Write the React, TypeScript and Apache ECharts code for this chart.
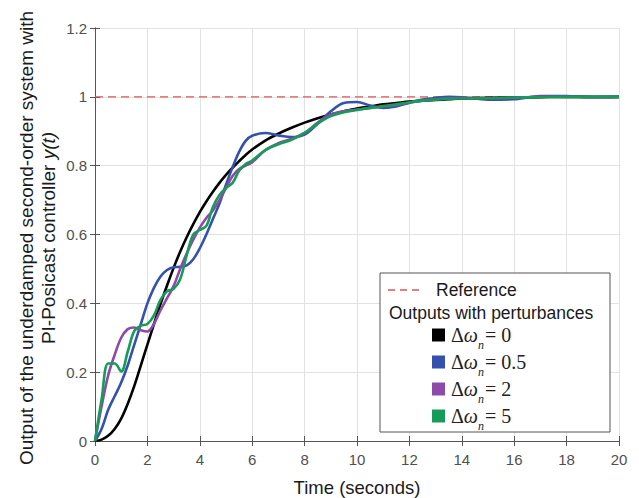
import React, { useEffect, useRef } from "react";
import * as echarts from "echarts";

const times = [0, 0.25, 0.5, 0.75, 1, 1.25, 1.5, 1.75, 2, 2.25, 2.5, 2.75, 3, 3.25, 3.5, 3.75, 4, 4.25, 4.5, 4.75, 5, 5.25, 5.5, 5.75, 6,
  6.5, 7, 7.5, 8, 8.5, 9, 9.5, 10, 10.5, 11, 11.5, 12, 12.5, 13, 13.5, 14, 15, 16, 17, 18, 19, 20];

const outDw0 = [0, 0.004, 0.015, 0.035, 0.065, 0.108, 0.16, 0.22, 0.28, 0.34, 0.398, 0.452, 0.503, 0.55, 0.592, 0.63, 0.665, 0.696, 0.724, 0.75, 0.773, 0.794, 0.813, 0.831, 0.847,
  0.873, 0.893, 0.91, 0.925, 0.938, 0.949, 0.958, 0.966, 0.972, 0.978, 0.982, 0.986, 0.989, 0.991, 0.993, 0.995, 0.997, 0.998, 0.999, 1.0, 1.0, 1.0];

const outDw05 = [0, 0.035, 0.09, 0.13, 0.17, 0.22, 0.28, 0.34, 0.4, 0.445, 0.478, 0.497, 0.505, 0.506, 0.51, 0.528, 0.56, 0.6, 0.645, 0.69, 0.745, 0.795, 0.84, 0.872, 0.887,
  0.895, 0.888, 0.883, 0.89, 0.922, 0.958, 0.982, 0.985, 0.975, 0.968, 0.972, 0.983, 0.992, 0.997, 1.0, 0.999, 0.992, 0.993, 1.002, 1.002, 0.999, 1.0];

const outDw2 = [0, 0.1, 0.19, 0.25, 0.3, 0.325, 0.33, 0.322, 0.318, 0.34, 0.38, 0.415, 0.45, 0.5, 0.545, 0.585, 0.62, 0.648, 0.67, 0.7, 0.735, 0.77, 0.79, 0.8, 0.81,
  0.845, 0.865, 0.878, 0.895, 0.925, 0.948, 0.958, 0.963, 0.968, 0.972, 0.976, 0.983, 0.989, 0.993, 0.996, 0.997, 0.996, 0.997, 1.001, 1.0, 0.999, 1.0];

const outDw5 = [0, 0.12, 0.225, 0.225, 0.202, 0.26, 0.32, 0.335, 0.34, 0.365, 0.41, 0.435, 0.442, 0.47, 0.54, 0.6, 0.613, 0.625, 0.68, 0.715, 0.735, 0.75, 0.785, 0.805, 0.815,
  0.845, 0.862, 0.875, 0.895, 0.922, 0.944, 0.955, 0.962, 0.968, 0.973, 0.978, 0.984, 0.989, 0.992, 0.994, 0.995, 0.996, 0.998, 0.999, 1.0, 1.0, 1.0];

const referenceValue = 1;
const xMin = 0, xMax = 20, xStep = 2;
const yMin = 0, yMax = 1.2, yStep = 0.2;

const seriesNames = ["Δω_n = 0", "Δω_n = 0.5", "Δω_n = 2", "Δω_n = 5"];
const seriesLabels = ["0", "0.5", "2", "5"];
const seriesColors = ["#000000", "#3451ad", "#8e4aa8", "#169c58"];
const seriesData = [outDw0, outDw05, outDw2, outDw5];

const SANS = '"Liberation Sans", Arial, sans-serif';
const SERIF = '"Liberation Serif", "DejaVu Serif", serif';

export default function App() {
  const ref = useRef<HTMLDivElement>(null);
  useEffect(() => {
    if (!ref.current) return;
    const chart = echarts.init(ref.current, null, { renderer: "svg" });
    const axisColor = "#555555";
    const lines = seriesData.map((arr, i) => ({
      name: seriesNames[i],
      type: "line",
      data: times.map((t, k) => [t, arr[k]]),
      showSymbol: false,
      smooth: 0.35,
      lineStyle: { color: seriesColors[i], width: 2.6 },
      itemStyle: { color: seriesColors[i] },
      z: 3 + i,
    }));
    const legendItems: any[] = [];
    const rowY = [335, 362, 389, 416];
    seriesLabels.forEach((lab, i) => {
      legendItems.push({
        type: "rect",
        shape: { x: 432, y: rowY[i] - 6.5, width: 13, height: 13 },
        style: { fill: seriesColors[i] },
        z: 101,
      });
      legendItems.push({
        type: "text",
        x: 451,
        y: rowY[i],
        style: {
          text: `{a|Δ}{b|ω}{s|n}{c|= ${lab}}`,
          textVerticalAlign: "middle",
          textAlign: "left",
          fill: "#222",
          rich: {
            a: { fontFamily: SERIF, fontSize: 20, lineHeight: 24, fill: "#222" },
            b: { fontFamily: SERIF, fontSize: 20, fontStyle: "italic", lineHeight: 24, fill: "#222" },
            s: { fontFamily: SERIF, fontSize: 12, fontStyle: "italic", lineHeight: 12, verticalAlign: "bottom", fill: "#222", padding: [0, 1, -4, 0] },
            c: { fontFamily: SERIF, fontSize: 20, lineHeight: 24, fill: "#222" },
          },
        },
        z: 101,
      });
    });

    chart.setOption({
      animation: false,
      grid: { left: 95, top: 28, width: 524, height: 413, containLabel: false },
      xAxis: [
        {
          type: "value", min: xMin, max: xMax, interval: xStep,
          axisLine: { show: true, lineStyle: { color: axisColor, width: 1 } },
          axisTick: { show: true, inside: true, length: 5, lineStyle: { color: axisColor } },
          axisLabel: { color: "#505050", fontSize: 15, fontFamily: SANS, margin: 11 },
          splitLine: { show: true, lineStyle: { color: "#e2e2e2", width: 1 } },
        },
        {
          type: "value", min: xMin, max: xMax, interval: xStep, position: "top",
          axisLine: { show: true, lineStyle: { color: axisColor, width: 1 } },
          axisTick: { show: true, inside: true, length: 5, lineStyle: { color: axisColor } },
          axisLabel: { show: false },
          splitLine: { show: false },
        },
      ],
      yAxis: [
        {
          type: "value", min: yMin, max: yMax, interval: yStep,
          axisLine: { show: true, lineStyle: { color: axisColor, width: 1 } },
          axisTick: { show: true, inside: true, length: 5, lineStyle: { color: axisColor } },
          axisLabel: { color: "#505050", fontSize: 15, fontFamily: SANS, margin: 8 },
          splitLine: { show: true, lineStyle: { color: "#e2e2e2", width: 1 } },
        },
        {
          type: "value", min: yMin, max: yMax, interval: yStep, position: "right",
          axisLine: { show: true, lineStyle: { color: axisColor, width: 1 } },
          axisTick: { show: true, inside: true, length: 5, lineStyle: { color: axisColor } },
          axisLabel: { show: false },
          splitLine: { show: false },
        },
      ],
      series: [
        {
          name: "Reference",
          type: "line",
          data: [[xMin, referenceValue], [xMax, referenceValue]],
          showSymbol: false,
          lineStyle: { color: "#e05555", width: 1.3, type: [8, 5] },
          z: 2,
        },
        ...lines,
      ],
      graphic: [
        {
          type: "text",
          x: 26, y: 238, rotation: Math.PI / 2,
          style: {
            text: "Output of the underdamped second-order system with",
            font: `19px ${SANS}`, fill: "#1a1a1a",
            textAlign: "center", textVerticalAlign: "middle",
          },
        },
        {
          type: "text",
          x: 48, y: 238, rotation: Math.PI / 2,
          style: {
            text: "{n|PI-Posicast controller }{i|y(t)}",
            textAlign: "center", textVerticalAlign: "middle",
            rich: {
              n: { fontFamily: SANS, fontSize: 19, fill: "#1a1a1a" },
              i: { fontFamily: SANS, fontSize: 19, fontStyle: "italic", fill: "#1a1a1a" },
            },
          },
        },
        {
          type: "text",
          x: 357, y: 487,
          style: {
            text: "Time (seconds)",
            font: `18.5px ${SANS}`, fill: "#1a1a1a",
            textAlign: "center", textVerticalAlign: "middle",
          },
        },
        {
          type: "rect",
          shape: { x: 380, y: 273, width: 230, height: 159 },
          style: { fill: "#ffffff", stroke: "#555555", lineWidth: 1 },
          z: 100,
        },
        {
          type: "line",
          shape: { x1: 388, y1: 290, x2: 424, y2: 290 },
          style: { stroke: "#e05555", lineWidth: 1.3, lineDash: [7, 5] },
          z: 101,
        },
        {
          type: "text",
          x: 436, y: 290,
          style: { text: "Reference", font: `17.5px ${SANS}`, fill: "#1a1a1a", textAlign: "left", textVerticalAlign: "middle" },
          z: 101,
        },
        {
          type: "text",
          x: 389, y: 313,
          style: { text: "Outputs with perturbances", font: `17.5px ${SANS}`, fill: "#1a1a1a", textAlign: "left", textVerticalAlign: "middle" },
          z: 101,
        },
        ...legendItems,
      ],
    });
    return () => chart.dispose();
  }, []);
  return <div ref={ref} style={{ width: 639, height: 498, position: "absolute", left: 0, top: 0, background: "#fff" }} />;
}
